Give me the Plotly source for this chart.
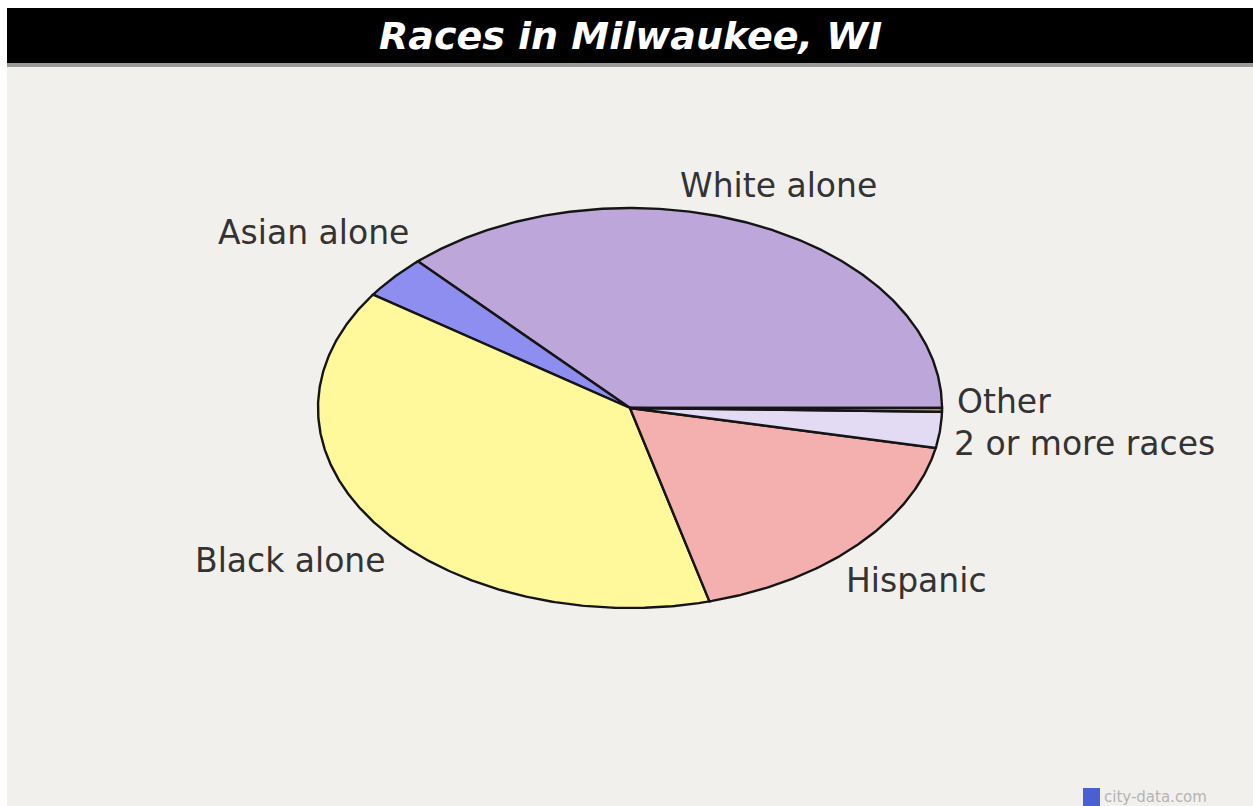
import numpy as np
import plotly.graph_objects as go

# Population shares (%) by race, counter-clockwise from 3 o'clock
races = ["White alone", "Asian alone", "Black alone", "Hispanic", "2 or more races", "Other"]
shares = [36.9, 3.5, 38.7, 17.7, 2.9, 0.3]
colors = ["#BDA6DA", "#8E8EF0", "#FFF99C", "#F4AFAF", "#E3DAF3", "#D2AE7A"]

# Label anchor points (pixel space) for each slice label
label_x = [778, 313, 290, 916, 1084, 1004]
label_y = [185, 232, 560, 580, 443, 401]

W, H = 1253, 806
CX, CY = 630, 408          # ellipse centre
RX, RY = 312, 200          # horizontal / vertical radii

fig = go.Figure()

# Background panel and title bar
fig.add_shape(type="rect", xref="x", yref="y", x0=7, x1=W, y0=8, y1=H,
              fillcolor="#F2F0ED", line_width=0, layer="below")
fig.add_shape(type="rect", xref="x", yref="y", x0=7, x1=W, y0=8, y1=63,
              fillcolor="#000000", line_width=0, layer="below")
fig.add_shape(type="rect", xref="x", yref="y", x0=7, x1=W, y0=63, y1=67,
              fillcolor="#9A9A9A", line_width=0, layer="below")

# Pie wedges, stretched into an ellipse
total = sum(shares)
start = 0.0
for name, val, col in zip(races, shares, colors):
    sweep = 360.0 * val / total
    t = np.radians(np.linspace(start, start + sweep, max(int(sweep * 2), 4)))
    xs = np.concatenate([[CX], CX + RX * np.cos(t), [CX]])
    ys = np.concatenate([[CY], CY - RY * np.sin(t), [CY]])
    fig.add_trace(go.Scatter(x=xs, y=ys, mode="lines", fill="toself",
                             fillcolor=col, line=dict(color="#151515", width=2.4),
                             name=name, hoverinfo="name", showlegend=False))
    start += sweep

# Slice labels
for name, lx, ly in zip(races, label_x, label_y):
    fig.add_annotation(x=lx, y=ly, xref="x", yref="y", text=name, showarrow=False,
                       xanchor="center", yanchor="middle",
                       font=dict(family="DejaVu Sans", size=33, color="#333333"))

# Title
fig.add_annotation(x=(7 + W) / 2, y=36, xref="x", yref="y",
                   text="<b><i>Races in Milwaukee, WI</i></b>", showarrow=False,
                   xanchor="center", yanchor="middle",
                   font=dict(family="DejaVu Sans", size=38, color="#FFFFFF"))

# Site badge
fig.add_shape(type="rect", xref="x", yref="y", x0=1083, x1=1100, y0=788, y1=806,
              fillcolor="#4A5FD0", line_width=0)
fig.add_annotation(x=1102, y=797, xref="x", yref="y", text="city-data.com",
                   showarrow=False, xanchor="left", yanchor="middle",
                   font=dict(family="DejaVu Sans", size=15, color="#B4B4B4"))

fig.update_layout(
    width=W, height=H,
    margin=dict(l=0, r=0, t=0, b=0),
    paper_bgcolor="#FFFFFF", plot_bgcolor="#FFFFFF",
    xaxis=dict(range=[0, W], visible=False, fixedrange=True),
    yaxis=dict(range=[H, 0], visible=False, fixedrange=True),
    showlegend=False,
)

fig.write_html("out.html")
